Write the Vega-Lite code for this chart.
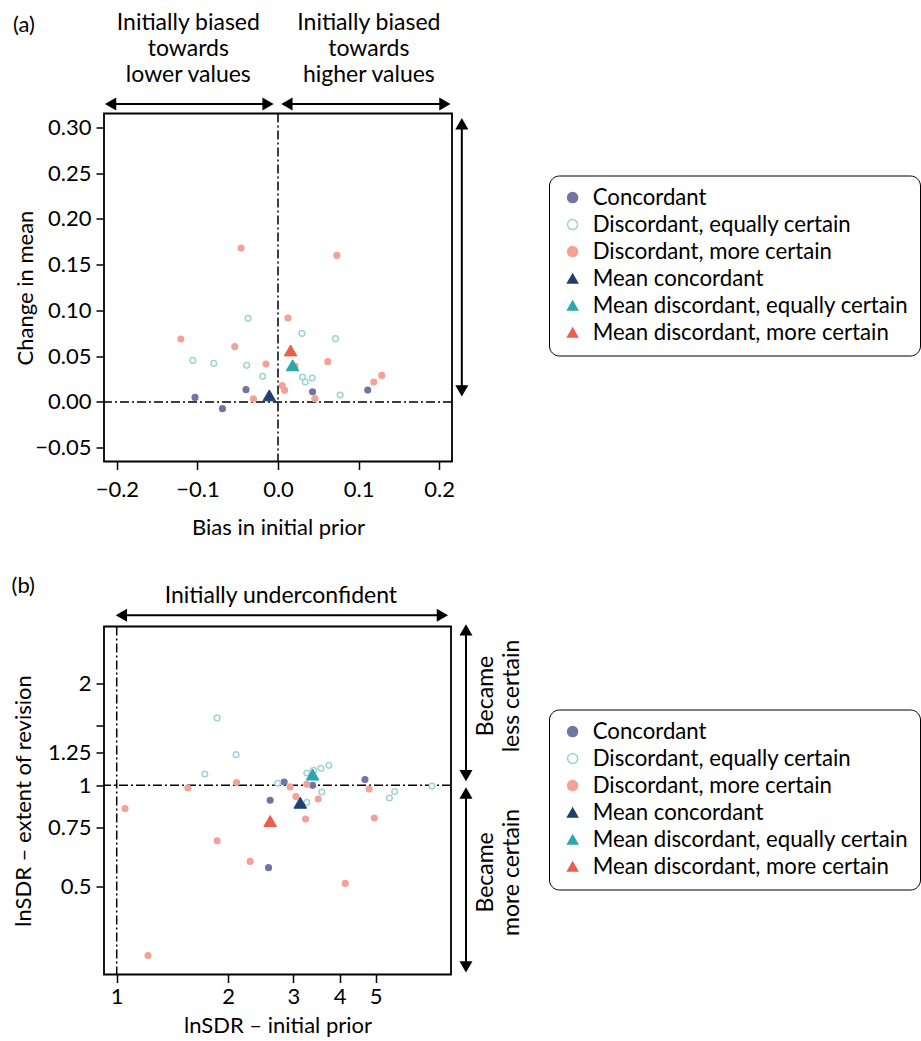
{
  "$schema": "https://vega.github.io/schema/vega-lite/v6.json",
  "background": "white",
  "padding": {"left": 10, "top": 10.5, "right": 0, "bottom": 0},
  "config": {
    "font": "Lato",
    "view": {"stroke": "black", "strokeWidth": 1.8},
    "concat": {"spacing": 34},
    "axis": {"labelFont": "Lato", "labelFontSize": 22, "titleFont": "Lato", "titleFontSize": 22, "titleFontWeight": "normal", "labelColor": "black", "titleColor": "black", "tickColor": "black", "tickWidth": 1.5, "tickSize": 8, "domain": false, "grid": false, "labelPadding": 5}
  },
  "resolve": {
    "scale": {"x": "independent", "y": "independent", "color": "independent", "stroke": "independent", "shape": "independent"},
    "legend": {"color": "independent", "stroke": "independent", "shape": "independent"}
  },
  "vconcat": [
    {
      "width": 348,
      "height": 348,
      "layer": [
        {
          "data": {"values": [{}]},
          "mark": {"type": "rule", "color": "black", "strokeWidth": 1.5, "strokeDash": [9, 3, 2, 3]},
          "encoding": {"x": {"datum": 0, "type": "quantitative", "scale": {"domain": [-0.216, 0.216], "nice": false, "zero": false}, "axis": {"values": [-0.2, -0.1, 0, 0.1, 0.2], "format": ".1f", "title": "Bias in initial prior", "titlePadding": 17, "labelPadding": 10}}}
        },
        {
          "data": {"values": [{}]},
          "mark": {"type": "rule", "color": "black", "strokeWidth": 1.5, "strokeDash": [9, 3, 2, 3]},
          "encoding": {"y": {"datum": 0, "type": "quantitative", "scale": {"domain": [-0.065, 0.315], "nice": false, "zero": false}, "axis": {"values": [-0.05, 0, 0.05, 0.1, 0.15, 0.2, 0.25, 0.3], "format": ".2f", "title": "Change in mean", "titlePadding": -3}}}
        },
        {
          "data": {"values": [
            {"group": "Concordant", "bias": -0.103, "change": 0.005},
            {"group": "Concordant", "bias": -0.069, "change": -0.0073},
            {"group": "Concordant", "bias": -0.0397, "change": 0.0134},
            {"group": "Concordant", "bias": 0.0429, "change": 0.0112},
            {"group": "Concordant", "bias": 0.1114, "change": 0.013},
            {"group": "Discordant, equally certain", "bias": -0.1057, "change": 0.0454},
            {"group": "Discordant, equally certain", "bias": -0.0797, "change": 0.0421},
            {"group": "Discordant, equally certain", "bias": -0.0372, "change": 0.0913},
            {"group": "Discordant, equally certain", "bias": -0.0388, "change": 0.04},
            {"group": "Discordant, equally certain", "bias": -0.019, "change": 0.028},
            {"group": "Discordant, equally certain", "bias": 0.0297, "change": 0.0749},
            {"group": "Discordant, equally certain", "bias": 0.0305, "change": 0.0273},
            {"group": "Discordant, equally certain", "bias": 0.0338, "change": 0.0218},
            {"group": "Discordant, equally certain", "bias": 0.0425, "change": 0.0262},
            {"group": "Discordant, equally certain", "bias": 0.0714, "change": 0.0691},
            {"group": "Discordant, equally certain", "bias": 0.0772, "change": 0.0076},
            {"group": "Discordant, more certain", "bias": -0.0458, "change": 0.168},
            {"group": "Discordant, more certain", "bias": 0.073, "change": 0.16},
            {"group": "Discordant, more certain", "bias": -0.1206, "change": 0.0688},
            {"group": "Discordant, more certain", "bias": -0.0537, "change": 0.0604},
            {"group": "Discordant, more certain", "bias": -0.0149, "change": 0.0415},
            {"group": "Discordant, more certain", "bias": 0.0124, "change": 0.0917},
            {"group": "Discordant, more certain", "bias": 0.021, "change": 0.0393},
            {"group": "Discordant, more certain", "bias": 0.0619, "change": 0.044},
            {"group": "Discordant, more certain", "bias": 0.0053, "change": 0.0178},
            {"group": "Discordant, more certain", "bias": 0.0082, "change": 0.0127},
            {"group": "Discordant, more certain", "bias": -0.0306, "change": 0.0033},
            {"group": "Discordant, more certain", "bias": 0.0458, "change": 0.0036},
            {"group": "Discordant, more certain", "bias": 0.1189, "change": 0.0218},
            {"group": "Discordant, more certain", "bias": 0.1288, "change": 0.029}
          ]},
          "mark": {"type": "point", "filled": true, "size": 32, "strokeWidth": 1.5, "opacity": 1},
          "encoding": {
            "x": {"field": "bias", "type": "quantitative"},
            "y": {"field": "change", "type": "quantitative"},
            "color": {"field": "group", "type": "nominal", "scale": {"domain": ["Concordant", "Discordant, equally certain", "Discordant, more certain", "Mean concordant", "Mean discordant, equally certain", "Mean discordant, more certain"], "range": ["#6f76a3", "#ffffff", "#f4a196", "#1d3f74", "#2aa7ad", "#ea5f4c"]},
              "legend": {"title": null, "orient": "none", "legendX": 445, "legendY": 62, "padding": 11, "strokeColor": "black", "cornerRadius": 10, "fillColor": "white", "labelFont": "Lato", "labelFontSize": 22.2, "labelColor": "black", "labelLimit": 500, "rowPadding": 4, "symbolSize": 100, "symbolOffset": 1.5, "symbolStrokeWidth": 1.5, "labelOffset": 9, "symbolOpacity": 1}},
            "stroke": {"field": "group", "type": "nominal", "scale": {"domain": ["Concordant", "Discordant, equally certain", "Discordant, more certain", "Mean concordant", "Mean discordant, equally certain", "Mean discordant, more certain"], "range": ["#6f76a3", "#9ed3d6", "#f4a196", "#1d3f74", "#2aa7ad", "#ea5f4c"]},
              "legend": {"title": null, "orient": "none", "legendX": 445, "legendY": 62, "padding": 11, "strokeColor": "black", "cornerRadius": 10, "fillColor": "white", "labelFont": "Lato", "labelFontSize": 22.2, "labelColor": "black", "labelLimit": 500, "rowPadding": 4, "symbolSize": 100, "symbolOffset": 1.5, "symbolStrokeWidth": 1.5, "labelOffset": 9, "symbolOpacity": 1}},
            "shape": {"field": "group", "type": "nominal", "scale": {"domain": ["Concordant", "Discordant, equally certain", "Discordant, more certain", "Mean concordant", "Mean discordant, equally certain", "Mean discordant, more certain"], "range": ["circle", "circle", "circle", "triangle-up", "triangle-up", "triangle-up"]},
              "legend": {"title": null, "orient": "none", "legendX": 445, "legendY": 62, "padding": 11, "strokeColor": "black", "cornerRadius": 10, "fillColor": "white", "labelFont": "Lato", "labelFontSize": 22.2, "labelColor": "black", "labelLimit": 500, "rowPadding": 4, "symbolSize": 100, "symbolOffset": 1.5, "symbolStrokeWidth": 1.5, "labelOffset": 9, "symbolOpacity": 1}}
          }
        },
        {
          "data": {"values": [
            {"group": "Mean concordant", "bias": -0.0108, "change": 0.0072},
            {"group": "Mean discordant, equally certain", "bias": 0.0181, "change": 0.04},
            {"group": "Mean discordant, more certain", "bias": 0.0156, "change": 0.0563}
          ]},
          "mark": {"type": "point", "filled": true, "size": 160, "strokeWidth": 1, "opacity": 1},
          "encoding": {
            "x": {"field": "bias", "type": "quantitative"},
            "y": {"field": "change", "type": "quantitative"},
            "color": {"field": "group", "type": "nominal"},
            "stroke": {"field": "group", "type": "nominal"},
            "shape": {"field": "group", "type": "nominal"}
          }
        },
        {
          "data": {"values": [{}]},
          "mark": {"type": "rule", "color": "black", "strokeWidth": 2},
          "encoding": {"x": {"datum": -0.2078}, "x2": {"datum": -0.0124}, "y": {"datum": 0.3253}}
        },
        {
          "data": {"values": [{}]},
          "mark": {"type": "point", "filled": true, "color": "black", "opacity": 1, "size": 170, "shape": "triangle-left"},
          "encoding": {"x": {"datum": -0.2078}, "y": {"datum": 0.3253}}
        },
        {
          "data": {"values": [{}]},
          "mark": {"type": "point", "filled": true, "color": "black", "opacity": 1, "size": 170, "shape": "triangle-right"},
          "encoding": {"x": {"datum": -0.0124}, "y": {"datum": 0.3253}}
        },
        {
          "data": {"values": [{}]},
          "mark": {"type": "rule", "color": "black", "strokeWidth": 2},
          "encoding": {"x": {"datum": 0.0111}, "x2": {"datum": 0.2072}, "y": {"datum": 0.3253}}
        },
        {
          "data": {"values": [{}]},
          "mark": {"type": "point", "filled": true, "color": "black", "opacity": 1, "size": 170, "shape": "triangle-left"},
          "encoding": {"x": {"datum": 0.0111}, "y": {"datum": 0.3253}}
        },
        {
          "data": {"values": [{}]},
          "mark": {"type": "point", "filled": true, "color": "black", "opacity": 1, "size": 170, "shape": "triangle-right"},
          "encoding": {"x": {"datum": 0.2072}, "y": {"datum": 0.3253}}
        },
        {
          "data": {"values": [{}]},
          "mark": {"type": "rule", "color": "black", "strokeWidth": 2},
          "encoding": {"x": {"datum": 0.2282}, "y": {"datum": 0.0122}, "y2": {"datum": 0.3038}}
        },
        {
          "data": {"values": [{}]},
          "mark": {"type": "point", "filled": true, "color": "black", "opacity": 1, "size": 170, "shape": "triangle-up"},
          "encoding": {"x": {"datum": 0.2282}, "y": {"datum": 0.3038}}
        },
        {
          "data": {"values": [{}]},
          "mark": {"type": "point", "filled": true, "color": "black", "opacity": 1, "size": 170, "shape": "triangle-down"},
          "encoding": {"x": {"datum": 0.2282}, "y": {"datum": 0.0122}}
        },
        {
          "data": {"values": [{}]},
          "mark": {"type": "text", "fontSize": 23, "lineHeight": 26, "align": "center", "baseline": "middle", "color": "black"},
          "encoding": {"x": {"datum": -0.1113}, "y": {"datum": 0.4138}, "text": {"value": ["Initially biased", "towards", "lower values"]}}
        },
        {
          "data": {"values": [{}]},
          "mark": {"type": "text", "fontSize": 23, "lineHeight": 26, "align": "center", "baseline": "middle", "color": "black"},
          "encoding": {"x": {"datum": 0.1128}, "y": {"datum": 0.4138}, "text": {"value": ["Initially biased", "towards", "higher values"]}}
        },
        {
          "data": {"values": [{}]},
          "mark": {"type": "text", "fontSize": 22, "align": "left", "baseline": "middle", "color": "black"},
          "encoding": {"x": {"datum": -0.329}, "y": {"datum": 0.4119}, "text": {"value": "(a)"}}
        }
      ]
    },
    {
      "width": 347,
      "height": 348,
      "layer": [
        {
          "data": {"values": [{}]},
          "mark": {"type": "rule", "color": "black", "strokeWidth": 1.5, "strokeDash": [9, 3, 2, 3]},
          "encoding": {"x": {"datum": 1, "type": "quantitative", "scale": {"type": "log", "domain": [0.924, 7.99], "nice": false}, "axis": {"values": [1, 2, 3, 4, 5], "format": "d", "title": "lnSDR – initial prior", "titlePadding": 8, "labelPadding": 4}}}
        },
        {
          "data": {"values": [{}]},
          "mark": {"type": "rule", "color": "black", "strokeWidth": 1.5, "strokeDash": [9, 3, 2, 3]},
          "encoding": {"y": {"datum": 1, "type": "quantitative", "scale": {"type": "log", "domain": [0.275, 2.956], "nice": false}, "axis": {"values": [0.5, 0.75, 1, 1.25, 1.5, 2], "format": "~g", "labelExpr": "datum.value == 1.5 ? '' : datum.label", "title": "lnSDR – extent of revision", "titlePadding": 12}}}
        },
        {
          "data": {"values": [
            {"group": "Concordant", "prior": 2.832, "revision": 1.023},
            {"group": "Concordant", "prior": 3.38, "revision": 1.0},
            {"group": "Concordant", "prior": 2.596, "revision": 0.903},
            {"group": "Concordant", "prior": 2.57, "revision": 0.57},
            {"group": "Concordant", "prior": 4.68, "revision": 1.04},
            {"group": "Discordant, equally certain", "prior": 1.867, "revision": 1.584},
            {"group": "Discordant, equally certain", "prior": 2.1, "revision": 1.233},
            {"group": "Discordant, equally certain", "prior": 1.729, "revision": 1.08},
            {"group": "Discordant, equally certain", "prior": 2.72, "revision": 1.014},
            {"group": "Discordant, equally certain", "prior": 3.26, "revision": 1.088},
            {"group": "Discordant, equally certain", "prior": 3.4, "revision": 1.108},
            {"group": "Discordant, equally certain", "prior": 3.56, "revision": 1.123},
            {"group": "Discordant, equally certain", "prior": 3.74, "revision": 1.146},
            {"group": "Discordant, equally certain", "prior": 3.58, "revision": 0.955},
            {"group": "Discordant, equally certain", "prior": 3.26, "revision": 0.89},
            {"group": "Discordant, equally certain", "prior": 5.45, "revision": 0.917},
            {"group": "Discordant, equally certain", "prior": 5.63, "revision": 0.958},
            {"group": "Discordant, equally certain", "prior": 7.1, "revision": 0.995},
            {"group": "Discordant, more certain", "prior": 1.053, "revision": 0.853},
            {"group": "Discordant, more certain", "prior": 1.556, "revision": 0.982},
            {"group": "Discordant, more certain", "prior": 2.106, "revision": 1.019},
            {"group": "Discordant, more certain", "prior": 2.94, "revision": 0.989},
            {"group": "Discordant, more certain", "prior": 3.26, "revision": 1.007},
            {"group": "Discordant, more certain", "prior": 3.046, "revision": 0.926},
            {"group": "Discordant, more certain", "prior": 3.5, "revision": 0.911},
            {"group": "Discordant, more certain", "prior": 3.235, "revision": 0.794},
            {"group": "Discordant, more certain", "prior": 1.867, "revision": 0.685},
            {"group": "Discordant, more certain", "prior": 2.292, "revision": 0.595},
            {"group": "Discordant, more certain", "prior": 4.14, "revision": 0.512},
            {"group": "Discordant, more certain", "prior": 4.8, "revision": 0.975},
            {"group": "Discordant, more certain", "prior": 4.96, "revision": 0.8},
            {"group": "Discordant, more certain", "prior": 1.215, "revision": 0.313}
          ]},
          "mark": {"type": "point", "filled": true, "size": 32, "strokeWidth": 1.5, "opacity": 1},
          "encoding": {
            "x": {"field": "prior", "type": "quantitative"},
            "y": {"field": "revision", "type": "quantitative"},
            "color": {"field": "group", "type": "nominal", "scale": {"domain": ["Concordant", "Discordant, equally certain", "Discordant, more certain", "Mean concordant", "Mean discordant, equally certain", "Mean discordant, more certain"], "range": ["#6f76a3", "#ffffff", "#f4a196", "#1d3f74", "#2aa7ad", "#ea5f4c"]},
              "legend": {"title": null, "orient": "none", "legendX": 445, "legendY": 83, "padding": 11, "strokeColor": "black", "cornerRadius": 10, "fillColor": "white", "labelFont": "Lato", "labelFontSize": 22.2, "labelColor": "black", "labelLimit": 500, "rowPadding": 4, "symbolSize": 100, "symbolOffset": 1.5, "symbolStrokeWidth": 1.5, "labelOffset": 9, "symbolOpacity": 1}},
            "stroke": {"field": "group", "type": "nominal", "scale": {"domain": ["Concordant", "Discordant, equally certain", "Discordant, more certain", "Mean concordant", "Mean discordant, equally certain", "Mean discordant, more certain"], "range": ["#6f76a3", "#9ed3d6", "#f4a196", "#1d3f74", "#2aa7ad", "#ea5f4c"]},
              "legend": {"title": null, "orient": "none", "legendX": 445, "legendY": 83, "padding": 11, "strokeColor": "black", "cornerRadius": 10, "fillColor": "white", "labelFont": "Lato", "labelFontSize": 22.2, "labelColor": "black", "labelLimit": 500, "rowPadding": 4, "symbolSize": 100, "symbolOffset": 1.5, "symbolStrokeWidth": 1.5, "labelOffset": 9, "symbolOpacity": 1}},
            "shape": {"field": "group", "type": "nominal", "scale": {"domain": ["Concordant", "Discordant, equally certain", "Discordant, more certain", "Mean concordant", "Mean discordant, equally certain", "Mean discordant, more certain"], "range": ["circle", "circle", "circle", "triangle-up", "triangle-up", "triangle-up"]},
              "legend": {"title": null, "orient": "none", "legendX": 445, "legendY": 83, "padding": 11, "strokeColor": "black", "cornerRadius": 10, "fillColor": "white", "labelFont": "Lato", "labelFontSize": 22.2, "labelColor": "black", "labelLimit": 500, "rowPadding": 4, "symbolSize": 100, "symbolOffset": 1.5, "symbolStrokeWidth": 1.5, "labelOffset": 9, "symbolOpacity": 1}}
          }
        },
        {
          "data": {"values": [
            {"group": "Mean concordant", "prior": 3.13, "revision": 0.888},
            {"group": "Mean discordant, equally certain", "prior": 3.38, "revision": 1.076},
            {"group": "Mean discordant, more certain", "prior": 2.596, "revision": 0.784}
          ]},
          "mark": {"type": "point", "filled": true, "size": 160, "strokeWidth": 1, "opacity": 1},
          "encoding": {
            "x": {"field": "prior", "type": "quantitative"},
            "y": {"field": "revision", "type": "quantitative"},
            "color": {"field": "group", "type": "nominal"},
            "stroke": {"field": "group", "type": "nominal"},
            "shape": {"field": "group", "type": "nominal"}
          }
        },
        {
          "data": {"values": [{}]},
          "mark": {"type": "rule", "color": "black", "strokeWidth": 2},
          "encoding": {"x": {"datum": 1.0296}, "x2": {"datum": 7.574}, "y": {"datum": 3.19}}
        },
        {
          "data": {"values": [{}]},
          "mark": {"type": "point", "filled": true, "color": "black", "opacity": 1, "size": 170, "shape": "triangle-left"},
          "encoding": {"x": {"datum": 1.0296}, "y": {"datum": 3.19}}
        },
        {
          "data": {"values": [{}]},
          "mark": {"type": "point", "filled": true, "color": "black", "opacity": 1, "size": 170, "shape": "triangle-right"},
          "encoding": {"x": {"datum": 7.574}, "y": {"datum": 3.19}}
        },
        {
          "data": {"values": [{}]},
          "mark": {"type": "rule", "color": "black", "strokeWidth": 2},
          "encoding": {"x": {"datum": 8.77}, "y": {"datum": 1.0685}, "y2": {"datum": 2.889}}
        },
        {
          "data": {"values": [{}]},
          "mark": {"type": "point", "filled": true, "color": "black", "opacity": 1, "size": 170, "shape": "triangle-up"},
          "encoding": {"x": {"datum": 8.77}, "y": {"datum": 2.889}}
        },
        {
          "data": {"values": [{}]},
          "mark": {"type": "point", "filled": true, "color": "black", "opacity": 1, "size": 170, "shape": "triangle-down"},
          "encoding": {"x": {"datum": 8.77}, "y": {"datum": 1.0685}}
        },
        {
          "data": {"values": [{}]},
          "mark": {"type": "rule", "color": "black", "strokeWidth": 2},
          "encoding": {"x": {"datum": 8.77}, "y": {"datum": 0.2898}, "y2": {"datum": 0.949}}
        },
        {
          "data": {"values": [{}]},
          "mark": {"type": "point", "filled": true, "color": "black", "opacity": 1, "size": 170, "shape": "triangle-up"},
          "encoding": {"x": {"datum": 8.77}, "y": {"datum": 0.949}}
        },
        {
          "data": {"values": [{}]},
          "mark": {"type": "point", "filled": true, "color": "black", "opacity": 1, "size": 170, "shape": "triangle-down"},
          "encoding": {"x": {"datum": 8.77}, "y": {"datum": 0.2898}}
        },
        {
          "data": {"values": [{}]},
          "mark": {"type": "text", "fontSize": 23, "align": "center", "baseline": "middle", "color": "black"},
          "encoding": {"x": {"datum": 2.775}, "y": {"datum": 3.636}, "text": {"value": "Initially underconfident"}}
        },
        {
          "data": {"values": [{}]},
          "mark": {"type": "text", "fontSize": 22, "align": "left", "baseline": "middle", "color": "black"},
          "encoding": {"x": {"datum": 0.52}, "y": {"datum": 3.893}, "text": {"value": "(b)"}}
        },
        {
          "data": {"values": [{}]},
          "mark": {"type": "text", "fontSize": 23, "lineHeight": 26, "angle": 270, "align": "center", "baseline": "middle", "color": "black"},
          "encoding": {"x": {"datum": 9.94}, "y": {"datum": 1.84}, "text": {"value": ["Became", "less certain"]}}
        },
        {
          "data": {"values": [{}]},
          "mark": {"type": "text", "fontSize": 23, "lineHeight": 26, "angle": 270, "align": "center", "baseline": "middle", "color": "black"},
          "encoding": {"x": {"datum": 9.94}, "y": {"datum": 0.552}, "text": {"value": ["Became", "more certain"]}}
        }
      ]
    }
  ]
}
